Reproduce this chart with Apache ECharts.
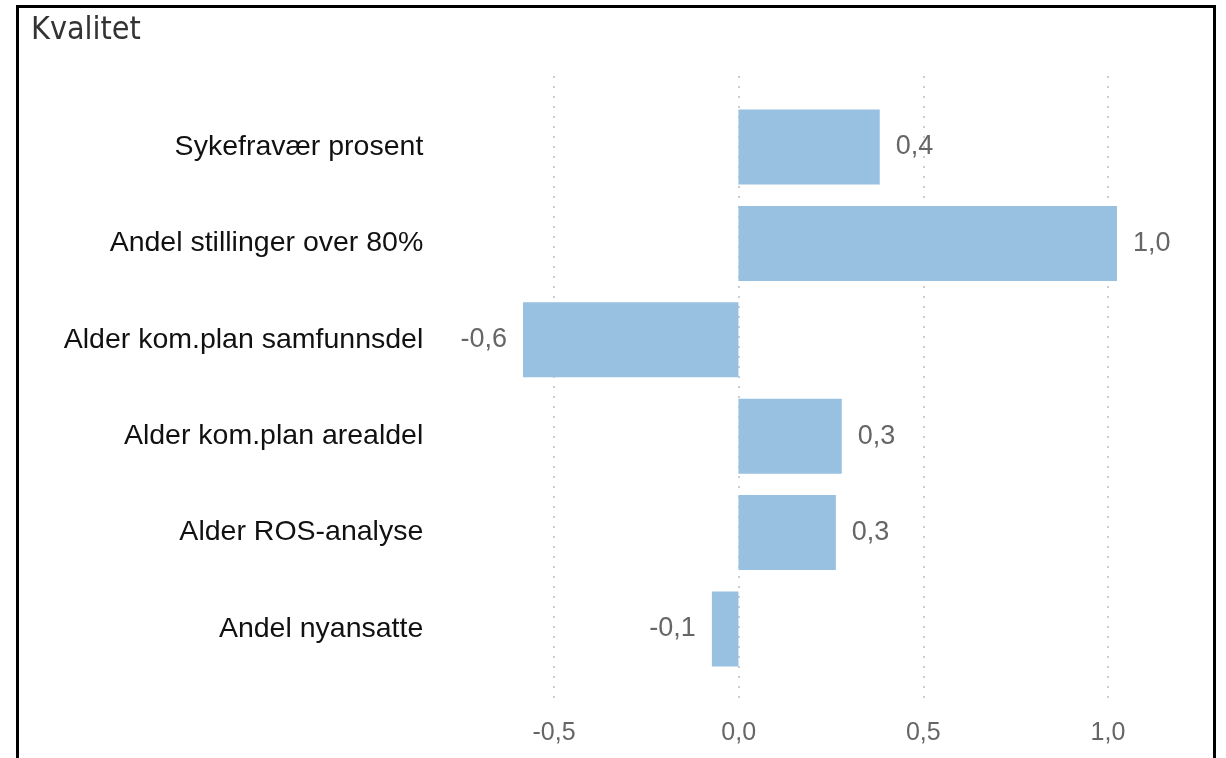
<!DOCTYPE html>
<html>
<head>
<meta charset="utf-8">
<script src="https://cdn.jsdelivr.net/npm/echarts@6/dist/echarts.min.js"></script>
<style>
html,body{margin:0;padding:0;background:#fff;}
#chart{width:1226px;height:758px;position:relative;}
#frame{position:absolute;left:16px;top:5px;width:1200px;height:800px;border:3px solid #000;box-sizing:border-box;pointer-events:none;}
</style>
</head>
<body>
<div id="chart"></div>
<div id="frame"></div>
<script>
const categories = ['Sykefravær prosent','Andel stillinger over 80%','Alder kom.plan samfunnsdel','Alder kom.plan arealdel','Alder ROS-analyse','Andel nyansatte'];
const values = [0.383, 1.026, -0.584, 0.280, 0.264, -0.072];
const tickValues = [-0.5, 0, 0.5, 1.0];

const fmt = v => v.toFixed(1).replace('.', ',').replace(/^-0,0$/, '0,0');

const chart = echarts.init(document.getElementById('chart'), null, {renderer:'canvas'});
chart.setOption({
  animation:false,
  title:{text:'Kvalitet', left:26, top:10, textStyle:{fontFamily:'DejaVu Sans Condensed', fontSize:32, fontWeight:'normal', color:'#333'}},
  grid:[
    {left:554, right:118, top:76, bottom:52},
    {left:443.3, right:26.4, top:98.8, height:578.4}
  ],
  xAxis:[
    {gridIndex:0, type:'value', min:tickValues[0], max:tickValues[tickValues.length-1], interval:0.5,
     axisLine:{show:false}, axisTick:{show:false},
     splitLine:{show:true, lineStyle:{type:[2,8], color:'#bdbdbd', width:1.5}},
     axisLabel:{margin:15, fontFamily:'Arial', fontSize:25, color:'#666', formatter:v=>fmt(v)}},
    {gridIndex:1, type:'value', min:-0.8, max:1.25,
     axisLine:{show:false}, axisTick:{show:false}, splitLine:{show:false}, axisLabel:{show:false}}
  ],
  yAxis:[
    {gridIndex:0, type:'category', data:[''], show:false},
    {gridIndex:1, type:'category', data:categories, inverse:true,
     axisLine:{show:false}, axisTick:{show:false}, splitLine:{show:false},
     axisLabel:{margin:20, fontFamily:'Arial', fontSize:28.5, color:'#111'}}
  ],
  series:[{
    type:'bar', xAxisIndex:1, yAxisIndex:1, data:values, barWidth:75,
    itemStyle:{color:'#97C0E1'},
    label:{show:true, position:'outside', distance:16, fontFamily:'Arial', fontSize:27, color:'#666',
      formatter:p=>fmt(p.value)}
  }]
});
</script>
</body>
</html>
